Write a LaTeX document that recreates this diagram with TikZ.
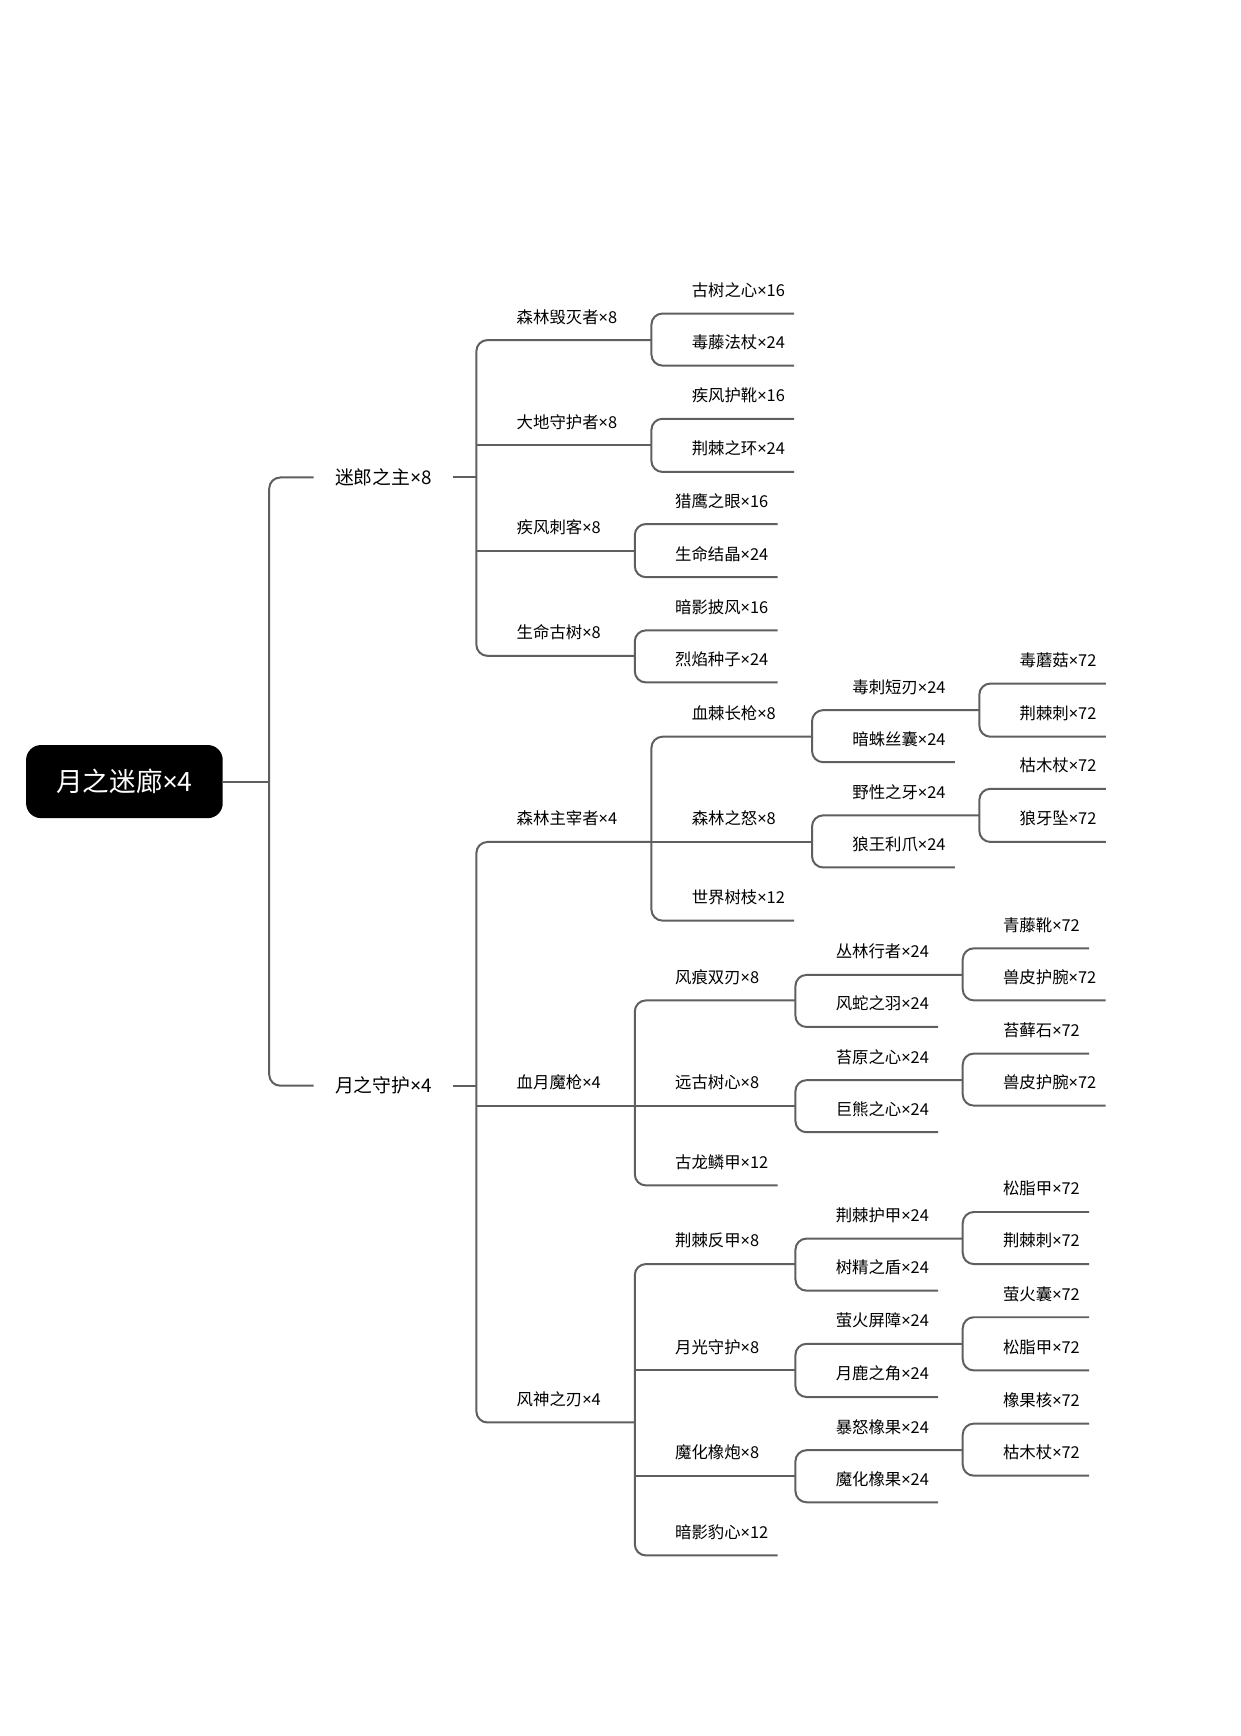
\documentclass[tikz,border=0pt]{standalone}
\usepackage{fontspec}
\setmainfont{Noto Sans CJK SC}
\newfontfamily\latinfont{Noto Sans}
\newcommand\mul{{\latinfont ×}}
\usetikzlibrary{calc}
\definecolor{lncol}{HTML}{5F5F5F}
\newcommand\mmleaf[4]{%
  \node[lbl, anchor=west] (#1) at ({#2+36},{#3-21}) {#4};
  \coordinate (#1-l) at (#2,#3);
  \coordinate (#1-r) at ($(#1.east)+(8,21)$);}
\newcommand\mmmid[5]{%
  \node[lbl, anchor=west] (#1) at ({#2+36},{#3-21}) {#4};
  \coordinate (#1-l) at (#2,#3);
  \coordinate (#1-r) at (#5,#3);}
\newcommand\mmbrk[2]{\draw[conn, rounded corners=5pt] (#1-r) -- (#1-l) -- (#2-l) -- (#2-r);}
\newcommand\mmstr[1]{\draw[conn] (#1-l) -- (#1-r);}
\begin{document}
\begin{tikzpicture}[x=0.5pt,y=-0.5pt,
  conn/.style={draw=lncol, line width=0.9pt},
  lbl/.style={inner sep=0pt, font=\fontsize{7.4pt}{9pt}\selectfont, text=black},
  lblone/.style={inner xsep=9.5pt, inner ysep=0pt, font=\fontsize{8.5pt}{10pt}\selectfont, text=black},
  rootbox/.style={fill=black, text=white, rounded corners=6.75pt, minimum width=88.75pt, minimum height=33pt, inner sep=0pt, font=\fontsize{12pt}{14pt}\selectfont}]
\fill[white] (0,0) rectangle (1119.3,1567);
\useasboundingbox (0,0) rectangle (1119.3,1567);

% root
\node[rootbox] (root) at (112.3,705.5) {月之迷廊\mul4};
\coordinate (r0) at (243,705.5);
\draw[conn] (root.east) -- (r0);

% level 1
\node[lblone, anchor=west] (m1) at (283,431) {迷郎之主\mul8};
\node[lblone, anchor=west] (m2) at (283,980) {月之守护\mul4};
\coordinate (m1-l) at (243,431);
\coordinate (m2-l) at (243,980);
\coordinate (m1-r) at (430,431);
\coordinate (m2-r) at (430,980);
\draw[conn, rounded corners=5pt] (m1.west) -- (m1-l) -- (m2-l) -- (m2.west);
\draw[conn] (m1.east) -- (m1-r);
\draw[conn] (m2.east) -- (m2-r);

% ---- 迷郎之主 subtree
\mmmid{a1}{430}{307}{森林毁灭者\mul8}{588}
\mmmid{a2}{430}{402}{大地守护者\mul8}{588}
\mmmid{a3}{430}{497}{疾风刺客\mul8}{573}
\mmmid{a4}{430}{592}{生命古树\mul8}{573}
\mmbrk{a1}{a4}\mmstr{a2}\mmstr{a3}

\mmleaf{b1}{588}{283}{古树之心\mul16}
\mmleaf{b2}{588}{330}{毒藤法杖\mul24}
\mmbrk{b1}{b2}
\mmleaf{b3}{588}{378}{疾风护靴\mul16}
\mmleaf{b4}{588}{426}{荆棘之环\mul24}
\mmbrk{b3}{b4}
\mmleaf{b5}{573}{473}{猎鹰之眼\mul16}
\mmleaf{b6}{573}{521}{生命结晶\mul24}
\mmbrk{b5}{b6}
\mmleaf{b7}{573}{569}{暗影披风\mul16}
\mmleaf{b8}{573}{616}{烈焰种子\mul24}
\mmbrk{b7}{b8}

% ---- 月之守护 subtree
\mmmid{c1}{430}{760}{森林主宰者\mul4}{588}
\mmmid{c2}{430}{998}{血月魔枪\mul4}{573}
\mmmid{c3}{430}{1284}{风神之刃\mul4}{573}
\mmbrk{c1}{c3}\mmstr{c2}

% 森林主宰者
\mmmid{d1}{588}{665}{血棘长枪\mul8}{733}
\mmmid{d2}{588}{760}{森林之怒\mul8}{733}
\mmleaf{d3}{588}{831}{世界树枝\mul12}
\mmbrk{d1}{d3}\mmstr{d2}

\mmmid{e1}{733}{641}{毒刺短刃\mul24}{884}
\mmleaf{e2}{733}{688}{暗蛛丝囊\mul24}
\mmbrk{e1}{e2}
\mmleaf{f1}{884}{617}{毒蘑菇\mul72}
\mmleaf{f2}{884}{665}{荆棘刺\mul72}
\mmbrk{f1}{f2}

\mmmid{e3}{733}{736}{野性之牙\mul24}{884}
\mmleaf{e4}{733}{783}{狼王利爪\mul24}
\mmbrk{e3}{e4}
\mmleaf{f3}{884}{712}{枯木杖\mul72}
\mmleaf{f4}{884}{760}{狼牙坠\mul72}
\mmbrk{f3}{f4}

% 血月魔枪
\mmmid{g1}{573}{903}{风痕双刃\mul8}{718}
\mmmid{g2}{573}{998}{远古树心\mul8}{718}
\mmleaf{g3}{573}{1070}{古龙鳞甲\mul12}
\mmbrk{g1}{g3}\mmstr{g2}

\mmmid{h1}{718}{880}{丛林行者\mul24}{869}
\mmleaf{h2}{718}{927}{风蛇之羽\mul24}
\mmbrk{h1}{h2}
\mmleaf{i1}{869}{856}{青藤靴\mul72}
\mmleaf{i2}{869}{903}{兽皮护腕\mul72}
\mmbrk{i1}{i2}

\mmmid{h3}{718}{975}{苔原之心\mul24}{869}
\mmleaf{h4}{718}{1022}{巨熊之心\mul24}
\mmbrk{h3}{h4}
\mmleaf{i3}{869}{951}{苔藓石\mul72}
\mmleaf{i4}{869}{998}{兽皮护腕\mul72}
\mmbrk{i3}{i4}

% 风神之刃
\mmmid{j1}{573}{1141}{荆棘反甲\mul8}{718}
\mmmid{j2}{573}{1237}{月光守护\mul8}{718}
\mmmid{j3}{573}{1332}{魔化橡炮\mul8}{718}
\mmleaf{j4}{573}{1404}{暗影豹心\mul12}
\mmbrk{j1}{j4}\mmstr{j2}\mmstr{j3}

\mmmid{k1}{718}{1118}{荆棘护甲\mul24}{869}
\mmleaf{k2}{718}{1165}{树精之盾\mul24}
\mmbrk{k1}{k2}
\mmleaf{l1}{869}{1094}{松脂甲\mul72}
\mmleaf{l2}{869}{1141}{荆棘刺\mul72}
\mmbrk{l1}{l2}

\mmmid{k3}{718}{1213}{萤火屏障\mul24}{869}
\mmleaf{k4}{718}{1261}{月鹿之角\mul24}
\mmbrk{k3}{k4}
\mmleaf{l3}{869}{1189}{萤火囊\mul72}
\mmleaf{l4}{869}{1237}{松脂甲\mul72}
\mmbrk{l3}{l4}

\mmmid{k5}{718}{1309}{暴怒橡果\mul24}{869}
\mmleaf{k6}{718}{1356}{魔化橡果\mul24}
\mmbrk{k5}{k6}
\mmleaf{l5}{869}{1285}{橡果核\mul72}
\mmleaf{l6}{869}{1332}{枯木杖\mul72}
\mmbrk{l5}{l6}
\end{tikzpicture}
\end{document}
